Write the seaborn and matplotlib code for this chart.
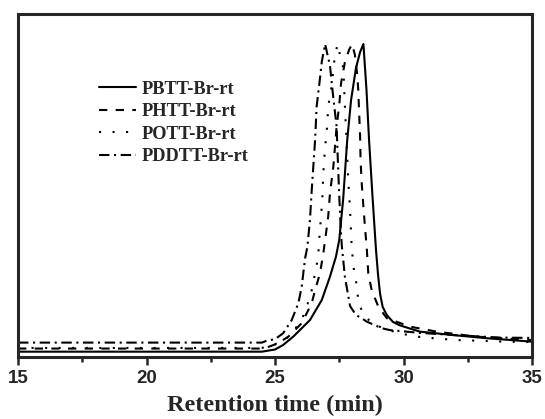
import numpy as np
import pandas as pd
import matplotlib
matplotlib.use("Agg")
import matplotlib.pyplot as plt
from matplotlib.ticker import MultipleLocator
import seaborn as sns

# ---- data (retention time in min, normalized intensity) ----
pbtt_x = [15.00, 24.49, 25.00, 25.31, 25.71, 26.36, 26.82, 27.14, 27.37, 27.50, 27.65, 27.81,
          27.96, 28.15, 28.31, 28.44, 28.56, 28.66, 28.79, 28.93, 29.01, 29.09, 29.19, 29.35,
          29.59, 29.86, 30.64, 31.93, 33.24, 35.00]
pbtt_y = [0.017, 0.017, 0.024, 0.038, 0.065, 0.118, 0.182, 0.257, 0.320, 0.374, 0.502, 0.693,
          0.821, 0.923, 0.974, 1.000, 0.853, 0.693, 0.518, 0.342, 0.262, 0.201, 0.160, 0.134,
          0.112, 0.101, 0.081, 0.070, 0.060, 0.049]

phtt_x = [15.00, 24.49, 24.73, 25.07, 25.52, 26.04, 26.43, 26.56, 26.75, 26.88, 26.95, 27.07,
          27.14, 27.27, 27.40, 27.50, 27.57, 27.72, 27.88, 28.00, 28.11, 28.20, 28.24, 28.28,
          28.31, 28.33, 28.37, 28.44, 28.50, 28.57, 28.63, 28.76, 29.02, 29.35, 30.25, 31.29,
          32.85, 34.27, 35.00]
phtt_y = [0.027, 0.027, 0.032, 0.042, 0.065, 0.108, 0.172, 0.214, 0.267, 0.331, 0.374, 0.448,
          0.524, 0.608, 0.738, 0.805, 0.875, 0.942, 0.981, 1.000, 0.965, 0.901, 0.853, 0.768,
          0.709, 0.629, 0.560, 0.480, 0.416, 0.348, 0.267, 0.214, 0.161, 0.124, 0.097, 0.081,
          0.065, 0.058, 0.054]

pott_x = [15.00, 24.49, 25.32, 25.65, 26.04, 26.30, 26.43, 26.56, 26.68, 26.72, 26.78, 26.84,
          26.88, 26.95, 27.01, 27.07, 27.21, 27.30, 27.43, 27.53, 27.66, 27.72, 27.79, 27.85,
          27.92, 27.98, 28.05, 28.15, 28.20, 28.31, 28.50, 28.89, 29.73, 30.19, 30.71, 31.16,
          32.07, 32.98, 33.87, 35.00]
pott_y = [0.029, 0.029, 0.049, 0.076, 0.118, 0.177, 0.214, 0.268, 0.320, 0.374, 0.438, 0.502,
          0.588, 0.672, 0.715, 0.800, 0.869, 0.942, 1.000, 0.965, 0.923, 0.802, 0.677, 0.565,
          0.470, 0.358, 0.289, 0.246, 0.204, 0.161, 0.129, 0.102, 0.078, 0.070, 0.063, 0.060,
          0.054, 0.052, 0.049, 0.048]

pddtt_x = [15.00, 24.49, 24.68, 25.00, 25.32, 25.65, 25.91, 26.04, 26.10, 26.17, 26.26, 26.36,
           26.43, 26.49, 26.56, 26.62, 26.75, 26.82, 26.95, 27.14, 27.27, 27.40, 27.43, 27.49,
           27.55, 27.60, 27.72, 27.92, 28.15, 28.37, 28.57, 29.15, 29.47, 30.64, 32.20, 33.75,
           35.00]
pddtt_y = [0.046, 0.046, 0.052, 0.057, 0.076, 0.118, 0.172, 0.225, 0.267, 0.315, 0.352, 0.438,
           0.534, 0.608, 0.693, 0.800, 0.890, 0.943, 1.000, 0.930, 0.827, 0.735, 0.661, 0.534,
           0.422, 0.355, 0.256, 0.163, 0.134, 0.124, 0.113, 0.092, 0.086, 0.077, 0.069, 0.062,
           0.061]

labels = ["PBTT-Br-rt", "PHTT-Br-rt", "POTT-Br-rt", "PDDTT-Br-rt"]
xticks = [15, 20, 25, 30, 35]

series = [(pbtt_x, pbtt_y), (phtt_x, phtt_y), (pott_x, pott_y), (pddtt_x, pddtt_y)]
df = pd.concat(
    [pd.DataFrame({"time": sx, "intensity": sy, "sample": lab})
     for (sx, sy), lab in zip(series, labels)],
    ignore_index=True,
)

# ---- styling ----
sns.set_style("ticks")
plt.rcParams["font.family"] = ["Liberation Sans", "DejaVu Sans"]

fig = plt.figure(figsize=(5.45, 4.19), dpi=100)
ax = fig.add_axes([18 / 545, (419 - 357) / 419, (532 - 18) / 545, (357 - 14) / 419])

dash_map = {
    "PBTT-Br-rt": "",
    "PHTT-Br-rt": (4, 4),
    "POTT-Br-rt": (1, 5.5),
    "PDDTT-Br-rt": (5, 2.2, 1, 2.2),
}
palette = {lab: "black" for lab in labels}

sns.lineplot(
    data=df, x="time", y="intensity", hue="sample", style="sample",
    hue_order=labels, style_order=labels, palette=palette, dashes=dash_map,
    estimator=None, sort=False, linewidth=1.5, ax=ax,
)

ax.set_xlim(15, 35)
ax.set_ylim(0, 343 / 313)
ax.set_yticks([])
ax.set_ylabel("")
ax.xaxis.set_major_locator(MultipleLocator(5))
ax.xaxis.set_minor_locator(MultipleLocator(2.5))
ax.set_xticks(xticks)
ax.set_xticklabels([str(t) for t in xticks], fontsize=13.5, fontweight="bold")
ax.tick_params(axis="x", which="major", direction="out", length=6, width=1.8, pad=3)
ax.tick_params(axis="x", which="minor", direction="out", length=3.5, width=1.8)
for sp in ax.spines.values():
    sp.set_linewidth(2.2)
    sp.set_visible(True)

ax.set_xlabel("Retention time (min)", fontsize=17.5, fontweight="bold",
              family=["Liberation Serif", "DejaVu Serif"], labelpad=6)

handles, labs = ax.get_legend_handles_labels()
leg = ax.legend(
    handles, labs, loc="upper left", bbox_to_anchor=(0.158, 0.805), frameon=False,
    prop={"family": ["Liberation Serif", "DejaVu Serif"], "weight": "bold", "size": 13.2},
    handlelength=2.0, handletextpad=0.3, labelspacing=0.3, borderpad=0.0,
    borderaxespad=0.0,
)

fig.savefig("out.png", dpi=100, facecolor="white")
